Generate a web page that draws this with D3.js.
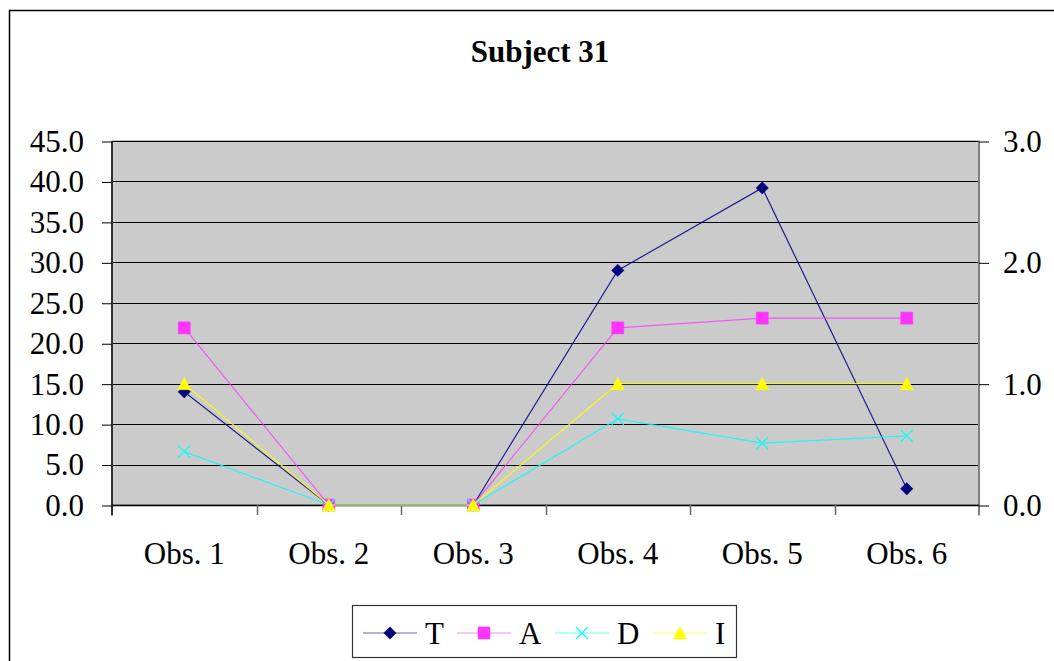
<!DOCTYPE html>
<html>
<head>
<meta charset="utf-8">
<script src="https://cdn.jsdelivr.net/npm/d3@7"></script>
<style>
  body { margin: 0; background: #fff; }
  svg { display: block; }
  text { font-family: 'Liberation Serif', 'Times New Roman', serif; fill: #000; }
</style>
</head>
<body>
<svg id="chart" width="1054" height="661"></svg>
<script>
const categories = ['Obs. 1', 'Obs. 2', 'Obs. 3', 'Obs. 4', 'Obs. 5', 'Obs. 6']
const leftTicks = [0, 5, 10, 15, 20, 25, 30, 35, 40, 45]
const rightTicks = [0, 1, 2, 3]

// T and A on the left axis, D and I on the right axis
const valuesT = [14.0, 0, 0, 29.0, 39.2, 2.0]
const valuesA = [21.9, 0, 0, 21.9, 23.1, 23.1]
const valuesD = [0.44, 0, 0, 0.71, 0.51, 0.57]
const valuesI = [1.0, 0, 0, 1.0, 1.0, 1.0]

const series = [
  { name: 'T', values: valuesT, axis: 'left', color: '#000080', marker: 'diamond' },
  { name: 'A', values: valuesA, axis: 'left', color: '#ff33ff', marker: 'square' },
  { name: 'D', values: valuesD, axis: 'right', color: '#00ffff', marker: 'cross' },
  { name: 'I', values: valuesI, axis: 'right', color: '#ffff00', marker: 'triangle' }
]

const svg = d3.select('#chart')

const plot = { left: 112, right: 979, top: 141, bottom: 505 }

// outer chart border (runs off the page on the right and bottom)
svg.append('rect')
  .attr('x', 9.5).attr('y', 10.5)
  .attr('width', 1100).attr('height', 700)
  .attr('fill', '#fff')
  .attr('stroke', '#000').attr('stroke-width', 1.5)

svg.append('text')
  .attr('x', 540).attr('y', 62)
  .attr('text-anchor', 'middle')
  .attr('font-size', 31).attr('font-weight', 'bold')
  .text('Subject 31')

const x = d3.scaleBand()
  .domain(categories)
  .range([plot.left, plot.right])
const cx = d => x(d) + x.bandwidth() / 2

const yLeft = d3.scaleLinear().domain([0, 45]).range([plot.bottom, plot.top])
const yRight = d3.scaleLinear().domain([0, 3]).range([plot.bottom, plot.top])

svg.append('rect')
  .attr('x', plot.left).attr('y', plot.top)
  .attr('width', plot.right - plot.left).attr('height', plot.bottom - plot.top)
  .attr('fill', '#cbcbcb')
  .attr('stroke', '#808080').attr('stroke-width', 1)

// gridlines
svg.append('g')
  .selectAll('line')
  .data(leftTicks.slice(1))
  .enter()
  .append('line')
  .attr('x1', plot.left).attr('x2', plot.right)
  .attr('y1', d => Math.round(yLeft(d)) + 0.5)
  .attr('y2', d => Math.round(yLeft(d)) + 0.5)
  .attr('stroke', '#000')
  .attr('stroke-width', 1.2)

const tickFont = 31

const leftAxis = svg.append('g')
  .attr('transform', 'translate(' + plot.left + ',0.5)')
  .call(d3.axisLeft(yLeft).tickValues(leftTicks).tickSize(10).tickPadding(18).tickFormat(d3.format('.1f')))
leftAxis.select('.domain').attr('stroke', '#333').attr('stroke-width', 2).attr('d', 'M0,' + plot.top + 'V' + (plot.bottom + 10))
leftAxis.selectAll('text').attr('font-size', tickFont).attr('font-family', 'Liberation Serif')

const rightAxis = svg.append('g')
  .attr('transform', 'translate(' + plot.right + ',0.5)')
  .call(d3.axisRight(yRight).tickValues(rightTicks).tickSize(10).tickPadding(14).tickFormat(d3.format('.1f')))
rightAxis.select('.domain').attr('stroke', '#808080').attr('stroke-width', 2).attr('d', 'M0,' + plot.top + 'V' + (plot.bottom + 10))
rightAxis.selectAll('text').attr('font-size', tickFont).attr('font-family', 'Liberation Serif')

// category axis
const bottom = svg.append('g')
bottom.append('line')
  .attr('x1', plot.left).attr('x2', plot.right)
  .attr('y1', plot.bottom + 0.5).attr('y2', plot.bottom + 0.5)
  .attr('stroke', '#000').attr('stroke-width', 1.5)
bottom.selectAll('.tick')
  .data(categories.slice(1))
  .enter()
  .append('line')
  .attr('x1', d => Math.round(x(d)) + 0.5).attr('x2', d => Math.round(x(d)) + 0.5)
  .attr('y1', plot.bottom).attr('y2', plot.bottom + 10)
  .attr('stroke', '#666').attr('stroke-width', 1.5)
bottom.selectAll('text')
  .data(categories)
  .enter()
  .append('text')
  .attr('x', d => cx(d))
  .attr('y', 564)
  .attr('text-anchor', 'middle')
  .attr('font-size', tickFont)
  .text(d => d)

function markerPath (type) {
  switch (type) {
    case 'diamond': return 'M0,-6.2L6.2,0L0,6.2L-6.2,0Z'
    case 'square': return 'M-6,-6H6V6H-6Z'
    case 'triangle': return 'M0,-6.5L6.5,6H-6.5Z'
    case 'cross': return 'M-6,-6L6,6M6,-6L-6,6'
  }
}

function drawMarker (sel, s) {
  sel.append('path')
    .attr('d', markerPath(s.marker))
    .attr('fill', s.marker === 'cross' ? 'none' : s.color)
    .attr('stroke', s.color)
    .attr('stroke-width', s.marker === 'cross' ? 1.2 : 0.5)
}

const lines = svg.append('g')
series.forEach(s => {
  const y = s.axis === 'left' ? yLeft : yRight
  const pts = categories.map((c, i) => [cx(c), y(s.values[i])])
  const g = lines.append('g')
  g.append('path')
    .datum(pts)
    .attr('d', d3.line())
    .attr('fill', 'none')
    .attr('stroke', s.color)
    .attr('stroke-width', 1.2)
    .attr('opacity', s.name === 'A' ? 0.75 : 0.85)
  g.selectAll('g')
    .data(pts)
    .enter()
    .append('g')
    .attr('transform', d => 'translate(' + d[0] + ',' + d[1] + ')')
    .each(function () { drawMarker(d3.select(this), s) })
})

// legend
const legend = svg.append('g')
legend.append('rect')
  .attr('x', 352.5).attr('y', 605.5)
  .attr('width', 384).attr('height', 52)
  .attr('fill', '#fff')
  .attr('stroke', '#333').attr('stroke-width', 1.2)

const legendX = [363, 457, 555, 653]
series.forEach((s, i) => {
  const g = legend.append('g').attr('transform', 'translate(' + legendX[i] + ',633)')
  g.append('line')
    .attr('x1', 0).attr('x2', 54)
    .attr('stroke', s.color).attr('stroke-width', 1.2).attr('opacity', 0.6)
  const m = g.append('g').attr('transform', 'translate(27,0)')
  drawMarker(m, s)
  g.append('text')
    .attr('x', 62).attr('y', 11)
    .attr('font-size', tickFont)
    .text(s.name)
})
</script>
</body>
</html>
